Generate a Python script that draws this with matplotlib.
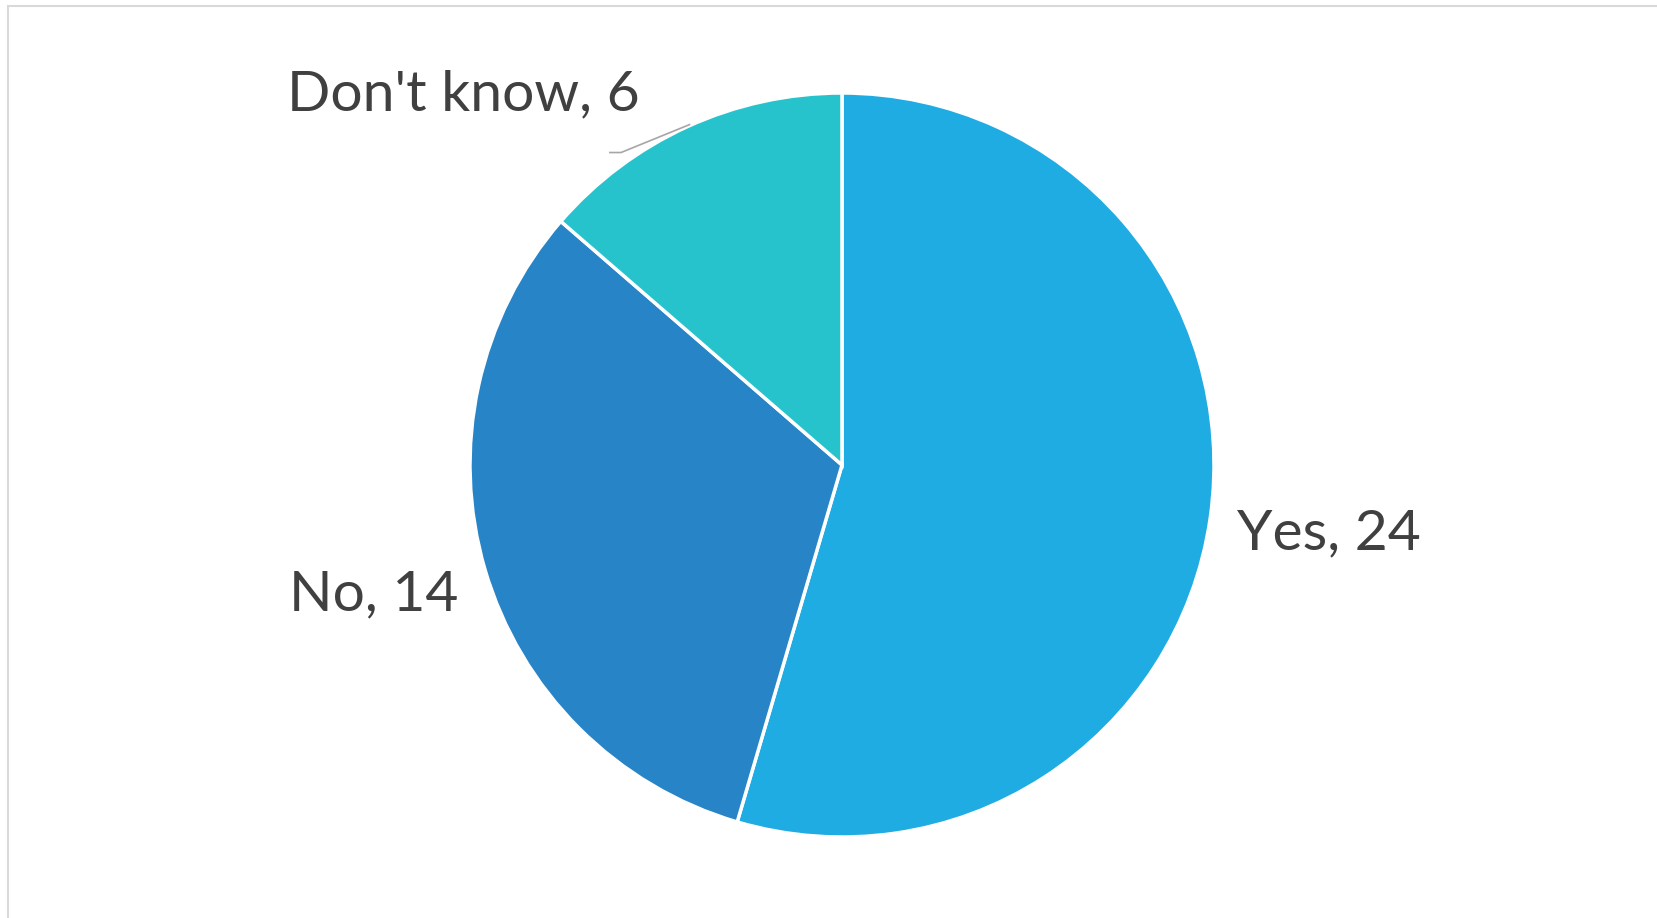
import matplotlib.pyplot as plt
from matplotlib.patches import Rectangle

# answers and counts
answers = ['Yes', 'No', "Don't know"]
counts = [24, 14, 6]
colors = ['#1FACE3', '#2784C7', '#27C3CC']

W, H = 1657, 918
fig = plt.figure(figsize=(W / 100, H / 100), dpi=100)

# light frame around the chart area
fig.patches.append(Rectangle((8 / W, -0.1), 1.2, (H - 6) / H + 0.1, transform=fig.transFigure,
                             fill=False, edgecolor='#D9D9D9', linewidth=1.5))

cx, cy, r = 842, 465, 372
ax = fig.add_axes([(cx - r) / W, (H - cy - r) / H, 2 * r / W, 2 * r / H])
ax.pie(counts, colors=colors, startangle=90, counterclock=False, radius=1,
       wedgeprops=dict(edgecolor='white', linewidth=2.5))
ax.set_xlim(-1, 1)
ax.set_ylim(-1, 1)
ax.set_aspect('equal')
ax.axis('off')

# label anchors (centre x, baseline y) in axes data units
label_pos = {'Yes': (1.31, -0.226), 'No': (-1.26, -0.39), "Don't know": (-1.018, 0.954)}
for name, val in zip(answers, counts):
    x, y = label_pos[name]
    ax.text(x, y, f'{name}, {val}', ha='center', va='baseline', fontsize=41,
            family='Lato', color='#404040', clip_on=False)

# leader line for the small slice
ax.plot([-0.624, -0.594, -0.41], [0.84, 0.84, 0.915], color='#A6A6A6', lw=1.2, clip_on=False)

fig.savefig('out.png', dpi=100)
